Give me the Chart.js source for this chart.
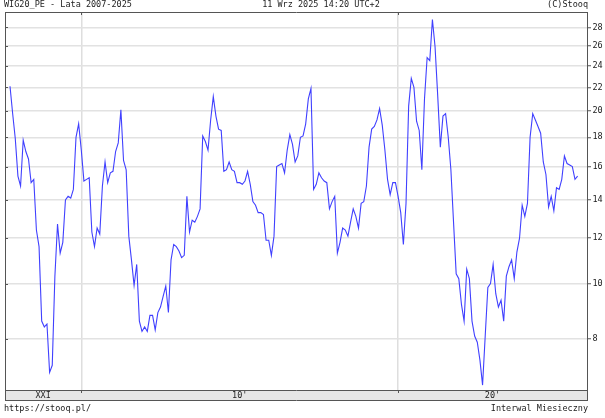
<!DOCTYPE html>
<html>
<head>
<meta charset="utf-8">
<script src="https://cdn.jsdelivr.net/npm/chart.js@4"></script>
<style>
  html, body { margin: 0; padding: 0; background: #fff; }
  #wrap { width: 605px; height: 418px; }
</style>
</head>
<body>
<div id="wrap"><canvas id="peChart" width="605" height="418"></canvas></div>
<script>
// monthly WIG20 P/E, first point Oct 2007
const startYear = 2007;
const startMonth = 10;
const pe = [
  22.1, 19.8, 17.9, 15.4, 14.8, 17.8, 17.0, 16.5, 15.0, 15.2, 12.4, 11.6,
  8.6, 8.4, 8.5, 7.0, 7.2, 10.3, 12.7, 11.3, 11.8, 14.0, 14.2, 14.1,
  14.6, 18.0, 19.0, 17.1, 15.1, 15.2, 15.3, 12.3, 11.6, 12.5, 12.2, 14.8,
  16.3, 15.0, 15.6, 15.7, 17.0, 17.6, 20.1, 16.4, 15.8, 12.1, 11.0, 9.93,
  10.8, 8.6, 8.25, 8.4, 8.25, 8.8, 8.8, 8.3, 8.9, 9.1, 9.5, 9.9,
  8.9, 11.0, 11.7, 11.6, 11.4, 11.1, 11.2, 14.2, 12.3, 12.9, 12.8, 13.1,
  13.5, 18.1, 17.7, 17.1, 19.3, 21.2, 19.6, 18.6, 18.5, 15.7, 15.8, 16.3,
  15.8, 15.7, 15.0, 15.0, 14.9, 15.1, 15.7, 14.9, 13.9, 13.7, 13.3, 13.3,
  13.2, 11.9, 11.9, 11.2, 12.1, 16.0, 16.1, 16.2, 15.6, 17.1, 18.2, 17.5,
  16.3, 16.7, 18.0, 18.1, 19.0, 21.0, 21.9, 14.6, 14.9, 15.6, 15.3, 15.1,
  15.0, 13.5, 13.9, 14.2, 11.3, 11.8, 12.5, 12.4, 12.1, 12.8, 13.5, 13.1,
  12.5, 13.8, 13.9, 14.8, 17.3, 18.6, 18.8, 19.3, 20.2, 18.9, 17.1, 15.2,
  14.3, 15.0, 15.0, 14.2, 13.3, 11.7, 13.8, 20.4, 22.8, 22.0, 19.2, 18.5,
  15.8, 21.0, 24.8, 24.5, 28.9, 25.9, 21.3, 17.3, 19.6, 19.8, 18.0, 15.8,
  12.8, 10.4, 10.2, 9.2, 8.6, 10.6, 10.2, 8.6, 8.1, 7.9, 7.35, 6.65,
  8.1, 9.85, 10.0, 10.8, 9.6, 9.1, 9.35, 8.6, 10.3, 10.7, 11.0, 10.2,
  11.35, 12.0, 13.7, 13.1, 13.8, 18.0, 19.8, 19.3, 18.8, 18.3, 16.3, 15.5,
  13.6, 14.2, 13.4, 14.7, 14.6, 15.2, 16.7, 16.2, 16.1, 16.0, 15.2, 15.4
];
const yTicks = [8, 10, 12, 14, 16, 18, 20, 22, 24, 26, 28];
const decadeLines = [2010, 2020];
const decadeLabels = ['XXI', "10'", "20'"];

const headerLeft = 'WIG20_PE - Lata 2007-2025';
const headerMid = '11 Wrz 2025 14:20 UTC+2';
const headerRight = '(C)Stooq';
const footerLeft = 'https://stooq.pl/';
const footerRight = 'Interwal Miesieczny';

const points = pe.map((v, i) => ({
  x: startYear + (startMonth - 1) / 12 + i / 12,
  y: v,
}));

const FONT = '8.5px "DejaVu Sans Mono", monospace';
const INK = '#1c1c1c';
const FRAME = '#555';

const stooqFrame = {
  id: 'stooqFrame',
  afterDraw(chart) {
    const { ctx, chartArea: a } = chart;
    const xs = chart.scales.x;
    const ys = chart.scales.y;
    const bandTop = a.bottom;
    const bandBottom = a.bottom + 10;
    ctx.save();

    // date band under the plot
    ctx.fillStyle = '#e6e6e6';
    ctx.fillRect(a.left, bandTop, a.right - a.left, bandBottom - bandTop);

    ctx.strokeStyle = FRAME;
    ctx.lineWidth = 1;
    ctx.beginPath();
    ctx.moveTo(a.left + 0.5, a.top + 0.5);
    ctx.lineTo(a.right + 0.5, a.top + 0.5);
    ctx.moveTo(a.left + 0.5, a.top);
    ctx.lineTo(a.left + 0.5, bandBottom + 1);
    ctx.moveTo(a.right + 0.5, a.top);
    ctx.lineTo(a.right + 0.5, bandBottom + 1);
    ctx.moveTo(a.left, bandTop + 0.5);
    ctx.lineTo(a.right + 1, bandTop + 0.5);
    ctx.moveTo(a.left, bandBottom + 0.5);
    ctx.lineTo(a.right + 1, bandBottom + 0.5);

    // small inner ticks on the left edge
    yTicks.forEach(v => {
      const y = Math.round(ys.getPixelForValue(v)) + 0.5;
      ctx.moveTo(a.left, y);
      ctx.lineTo(a.left + 3, y);
    });
    // decade ticks on top edge and band
    decadeLines.forEach(d => {
      const x = Math.round(xs.getPixelForValue(d)) + 0.5;
      ctx.moveTo(x, a.top);
      ctx.lineTo(x, a.top + 3);
      ctx.moveTo(x, bandTop);
      ctx.lineTo(x, bandTop + 3);
    });
    ctx.stroke();

    ctx.font = FONT;
    ctx.fillStyle = INK;
    ctx.textBaseline = 'middle';

    const edges = [xs.min, ...decadeLines, xs.max];
    ctx.textAlign = 'center';
    decadeLabels.forEach((lab, i) => {
      const x = (xs.getPixelForValue(edges[i]) + xs.getPixelForValue(edges[i + 1])) / 2;
      ctx.fillText(lab, x, bandTop + 5.5);
    });

    ctx.textAlign = 'left';
    ctx.fillText(headerLeft, 4, 5);
    ctx.fillText(footerLeft, 4, 408.5);
    ctx.textAlign = 'center';
    ctx.fillText(headerMid, 321, 5);
    ctx.textAlign = 'right';
    ctx.fillText(headerRight, a.right + 1, 5);
    ctx.fillText(footerRight, a.right + 1, 408.5);
    ctx.restore();
  },
};

new Chart(document.getElementById('peChart'), {
  type: 'line',
  data: {
    datasets: [{
      label: 'WIG20_PE',
      data: points,
      borderColor: 'rgb(64, 64, 255)',
      borderWidth: 1.1,
      pointRadius: 0,
      tension: 0,
      fill: false,
    }],
  },
  options: {
    responsive: false,
    animation: false,
    events: [],
    layout: { padding: { left: 5, top: 12, right: 0, bottom: 28 } },
    plugins: {
      legend: { display: false },
      tooltip: { enabled: false },
      title: { display: false },
    },
    scales: {
      x: {
        type: 'linear',
        position: 'bottom',
        min: 2007.592,
        max: 2025.963,
        afterBuildTicks: s => { s.ticks = decadeLines.map(v => ({ value: v })); },
        afterFit: s => { s.height = 0; },
        ticks: { display: false },
        border: { display: false },
        grid: { color: '#dedede', lineWidth: 1.5, drawTicks: false },
      },
      y: {
        type: 'logarithmic',
        position: 'right',
        min: 6.52,
        max: 29.78,
        afterBuildTicks: s => { s.ticks = yTicks.map(v => ({ value: v })); },
        afterFit: s => { s.width = 18; },
        ticks: {
          callback: v => String(v),
          autoSkip: false,
          maxRotation: 0,
          padding: 1.5,
          color: INK,
          font: { family: 'DejaVu Sans Mono', size: 8.5 },
        },
        border: { display: false },
        grid: { color: '#e2e2e2', lineWidth: 1.5, tickLength: 4, tickColor: FRAME, tickWidth: 1 },
      },
    },
  },
  plugins: [stooqFrame],
});
</script>
</body>
</html>
